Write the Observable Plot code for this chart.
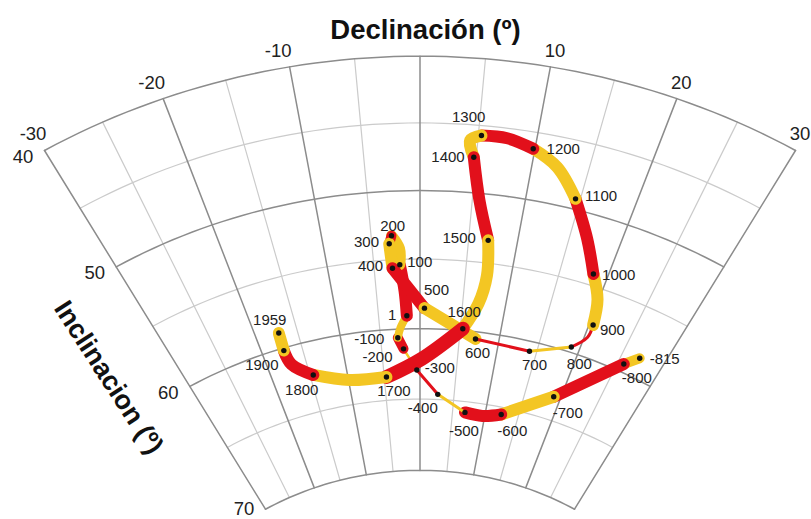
<!DOCTYPE html>
<html><head><meta charset="utf-8">
<script src="https://cdn.jsdelivr.net/npm/d3@7"></script>
<script src="https://cdn.jsdelivr.net/npm/@observablehq/plot@0.6"></script>
<style>html,body{margin:0;padding:0;background:#fff;} svg{display:block}</style>
</head><body><div id="chart"></div>
<script>
// ---- data: secular variation curve (declination, inclination) ----
const pathYear = [-815,-800,-700,-600,null,-500,-400,-300,-200,-100,null,1,null,100,null,200,300,400,500,600,700,800,null,900,null,1000,null,1100,null,1200,null,1300,null,1400,null,1500,null,null,1600,null,1700,null,1800,null,1900,1959];
const pathDec  = [27.13,25.75,19.03,12.42,9.66,6.91,2.61,-0.44,-2.15,-2.82,-2.42,-1.59,-1.77,-2.19,-2.15,-2.92,-3.20,-3.00,0.53,7.04,14.09,18.95,20.38,20.45,19.86,18.49,16.72,14.56,12.24,9.85,7.49,5.27,4.33,4.78,5.69,7.01,7.38,6.85,5.31,0.20,-4.69,-9.86,-14.56,-16.93,-17.31,-17.22];
const pathInc  = [58.56,59.41,63.35,65.50,65.84,65.76,64.64,62.94,61.42,60.61,59.90,59.06,57.26,55.38,54.21,53.25,53.83,55.61,58.53,60.51,60.71,59.62,58.60,57.64,55.81,54.16,51.83,49.24,47.26,46.24,45.74,45.74,46.17,47.39,50.53,53.35,55.89,57.97,59.87,62.16,63.35,63.25,62.39,61.27,60.18,58.88];

const decTicks = [-30,-20,-10,10,20,30];
const incTicks = [40,50,60,70];
const decGrid = [-30,-25,-20,-15,-10,-5,0,5,10,15,20,25,30];
const incGrid = [40,45,50,55,60,65,70];

// ---- styles / layout ----
const YELLOW = "#f3c623", RED = "#e2101b";
const segWidth = [10,12,12,12,3,3,2.5,10,8,12,11,10,12,12,12,3,3,3,12,12,12,12,12,12,12,14,12,12,12];
const labelOffset = {
  "-815":[25,1],"-800":[13,14.5],"-700":[14,16],"-600":[11,16.7],"-500":[-1,18.3],"-400":[-15,14],
  "-300":[23,-2],"-200":[-26,8.4],"-100":[-28.5,1],"1":[-14.6,-0.7],"100":[20,-2.6],"200":[1.2,-9.5],
  "300":[-22.7,-1.6],"400":[-22,-1.7],"500":[12,-18],"600":[2,14.4],"700":[5,13.6],"800":[8,16.8],
  "900":[19.3,5],"1000":[25.3,0.7],"1100":[25.5,-2.3],"1200":[30,0],"1300":[-12.8,-18.3],
  "1400":[-25.8,0],"1500":[-29,-1.7],"1600":[1.5,-16.6],"1700":[7.5,14.5],"1800":[-11.5,15.7],
  "1900":[-22,14.3],"1959":[-9,-12.7]
};

// ---- fan projection: declination = angle, inclination = radius ----
const CX = 419.5, CY = 759.6, SY = 0.9373;
function radius(inc){ const t = inc - 40; return 751 - 14.14*t - 0.0197*t*t; }
const fan = d3.geoTransform({
  point(dec, inc) {
    const r = radius(inc), a = dec * Math.PI / 180;
    this.stream.point(CX + r*Math.sin(a), CY - SY*r*Math.cos(a));
  }
});

// grid rows
const gridRows = [];
for (const inc of incGrid) {
  for (let d = -30; d <= 30; d += 1) gridRows.push({key:"i"+inc, major: inc % 10 === 0, dec:d, inc});
}
for (const dec of decGrid) {
  gridRows.push({key:"d"+dec, major: dec % 10 === 0, dec, inc:40});
  gridRows.push({key:"d"+dec, major: dec % 10 === 0, dec, inc:70});
}

// curve segments
const dated = pathYear.map((y,i)=> y===null ? -1 : i).filter(i => i >= 0);
const segRows = [];
for (let k = 0; k < dated.length - 1; k++) {
  for (let i = dated[k]; i <= dated[k+1]; i++) {
    segRows.push({seg:k, dec:pathDec[i], inc:pathInc[i], color: k % 2 === 0 ? YELLOW : RED, width: segWidth[k]});
  }
}
const points = dated.map(i => ({year: pathYear[i], dec: pathDec[i], inc: pathInc[i]}));

const FONT = "'Liberation Sans', Arial, Helvetica, sans-serif";
const labelMarks = points.map(p => {
  const [dx, dy] = labelOffset[String(p.year)];
  return Plot.text([p], {x:"dec", y:"inc", text: d => String(d.year), dx, dy, fontSize: 15, fill: "#222"});
});

const decTickRows = decTicks.map(d => ({dec:d, inc:40, label:String(d)}));
const incTickRows = incTicks.map(i => ({dec:-30, inc:i, label:String(i)}));

const chart = Plot.plot({
  width: 811, height: 519,
  margin: 0,
  projection: fan,
  color: {type: "identity"},
  style: {fontFamily: FONT, background: "#fff"},
  marks: [
    Plot.line(gridRows.filter(d => !d.major), {x:"dec", y:"inc", z:"key", stroke:"#cbcbcb", strokeWidth:1.2, curve:"linear"}),
    Plot.line(gridRows.filter(d => d.major), {x:"dec", y:"inc", z:"key", stroke:"#8c8c8c", strokeWidth:1.5, curve:"linear"}),
    Plot.line(segRows, {x:"dec", y:"inc", z:"seg", stroke:"color", strokeWidth:"width", curve:"catmull-rom", strokeLinecap:"round", strokeLinejoin:"round"}),
    Plot.dot(points, {x:"dec", y:"inc", r:2.7, fill:"#111", stroke:null}),
    ...labelMarks,
    Plot.text(decTickRows.filter(d => d.dec < 0), {x:"dec", y:"inc", text:"label", dx:-11.5, dy:-16, fontSize:18.5, fill:"#222"}),
    Plot.text(decTickRows.filter(d => d.dec > 0), {x:"dec", y:"inc", text:"label", dx:4.5, dy:-16, fontSize:18.5, fill:"#222"}),
    Plot.text(incTickRows.filter(d => d.inc < 70), {x:"dec", y:"inc", text:"label", dx:-21.5, dy:6.5, fontSize:18.5, fill:"#222"}),
    Plot.text(incTickRows.filter(d => d.inc === 70), {x:"dec", y:"inc", text:"label", dx:-21.5, dy:0, fontSize:18.5, fill:"#222"}),
    Plot.text(["Declinación (º)"], {frameAnchor:"top", dx:19.5, dy:30, lineAnchor:"middle", fontSize:27.5, fontWeight:"bold", fill:"#111"}),
    Plot.text(["Inclinacion (º)"], {frameAnchor:"top-left", dx:108, dy:377, lineAnchor:"middle", textAnchor:"middle", rotate:57, fontSize:27, fontWeight:"bold", fill:"#111"})
  ]
});
document.getElementById("chart").appendChild(chart);
</script>
</body></html>
